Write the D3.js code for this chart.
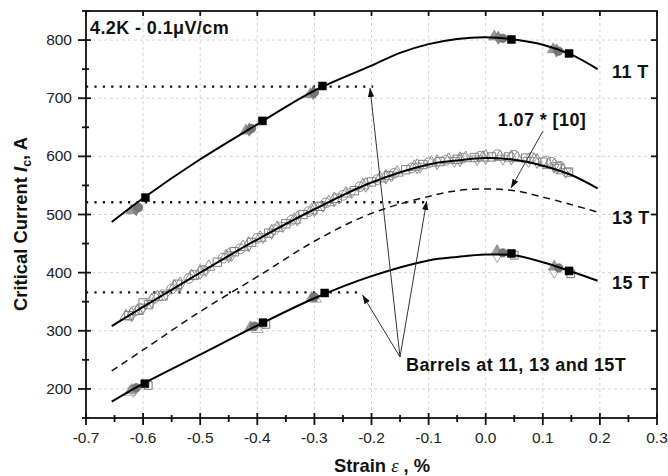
<!DOCTYPE html>
<html><head><meta charset="utf-8">
<script src="https://cdn.jsdelivr.net/npm/d3@7"></script>
<style>body{margin:0;background:#fff} text{font-family:"Liberation Sans",Arial,sans-serif}</style>
</head><body><svg id="c" width="668" height="476"></svg>
<script>
// ---- data ----
const xTicks = [-0.7,-0.6,-0.5,-0.4,-0.3,-0.2,-0.1,0.0,0.1,0.2,0.3];
const xMinor = [-0.65,-0.55,-0.45,-0.35,-0.25,-0.15,-0.05,0.05,0.15,0.25];
const yTicks = [200,300,400,500,600,700,800];
const yMinor = [150,250,350,450,550,650,750,850];

const fit11 = [[-0.655,487],[-0.6,528],[-0.5,595],[-0.4,655],[-0.3,713],[-0.2,756],[-0.15,778],[-0.1,793],[-0.05,802],[0.0,805],[0.05,801],[0.1,792],[0.15,775],[0.196,750]];
const fit13 = [[-0.655,308],[-0.6,341],[-0.5,400],[-0.4,457],[-0.3,509],[-0.2,555],[-0.1,586],[-0.05,593],[0.0,597],[0.05,594],[0.1,584],[0.15,568],[0.196,545]];
const ref10 = [[-0.655,231],[-0.6,267],[-0.5,333],[-0.4,393],[-0.3,454],[-0.2,502],[-0.1,531],[-0.05,541],[0.0,544],[0.05,541],[0.1,530],[0.15,517],[0.2,503]];
const fit15 = [[-0.655,178],[-0.6,209],[-0.5,259],[-0.4,309],[-0.3,356],[-0.2,394],[-0.1,421],[-0.05,427],[0.0,431],[0.05,430],[0.1,418],[0.15,402],[0.196,386]];

const dotted11 = [[-0.7,720],[-0.197,720]];
const dotted13 = [[-0.7,521],[-0.105,521]];
const dotted15 = [[-0.7,366],[-0.218,366]];

// 11 T measurements
const sq11 = [[-0.596,529],[-0.391,661],[-0.286,721],[0.045,801],[0.146,777]];
const grayCirc11 = [[-0.608,512],[-0.41,648],[-0.3,710],[0.03,803],[0.128,781]];
const grayTri11 = [[-0.62,507],[-0.42,644],[-0.307,707],[0.015,806],[0.118,784]];
const grayDia11 = [[-0.612,509],[-0.414,646],[-0.302,709],[0.022,804],[0.124,782]];

// 13 T measurements (open symbols)
const sq13 = [[-0.625,326],[-0.6,348],[-0.59,345],[-0.565,360],[-0.54,380],[-0.51,396],[-0.47,418],[-0.44,436],[-0.41,452],[-0.38,468],[-0.35,484],[-0.32,500],[-0.29,514],[-0.26,528],[-0.23,541],[-0.2,556],[-0.17,567],[-0.14,577],[-0.11,586],[-0.08,591],[-0.05,595],[-0.02,598],[0.01,599],[0.04,599],[0.07,597],[0.1,590],[0.125,582],[0.145,573]];
const circ13 = [[-0.615,334],[-0.605,338],[-0.58,356],[-0.55,372],[-0.52,390],[-0.495,404],[-0.46,425],[-0.43,441],[-0.4,459],[-0.37,474],[-0.34,490],[-0.31,505],[-0.28,520],[-0.25,533],[-0.22,548],[-0.19,560],[-0.16,571],[-0.13,580],[-0.1,589],[-0.07,593],[-0.04,597],[-0.01,600],[0.02,603],[0.05,602],[0.08,598],[0.105,592],[0.115,590],[0.13,583]];
const tri13 = [[-0.63,325],[-0.61,334],[-0.575,358],[-0.545,376],[-0.515,394],[-0.485,410],[-0.455,428],[-0.425,444],[-0.395,460],[-0.365,477],[-0.335,491],[-0.305,507],[-0.275,521],[-0.245,536],[-0.215,550],[-0.185,562],[-0.155,572],[-0.125,582],[-0.095,589],[-0.065,594],[-0.035,597],[-0.005,598],[0.025,599],[0.055,597],[0.085,594],[0.11,585],[0.135,576]];
const dia13 = [[-0.62,328],[-0.585,352],[-0.535,380],[-0.5,401],[-0.45,430],[-0.415,449],[-0.375,470],[-0.33,493],[-0.3,509],[-0.265,526],[-0.21,551],[-0.175,565],[-0.12,583],[-0.085,590],[-0.045,595],[0.0,599],[0.045,598],[0.09,592],[0.12,584]];
const triDn13 = [[-0.6,340],[-0.56,364],[-0.49,404],[-0.445,430],[-0.39,461],[-0.355,480],[-0.285,515],[-0.235,538],[-0.165,567],[-0.115,582],[-0.055,592],[-0.015,595],[0.03,596],[0.075,592],[0.125,580],[0.14,573]];

// 15 T measurements
const sq15 = [[-0.597,209],[-0.39,314],[-0.282,365],[0.045,433],[0.146,403]];
const openSq15 = [[-0.591,206],[-0.385,311],[0.05,430],[0.149,398]];
const grayCirc15 = [[-0.612,202],[-0.405,308],[-0.3,358],[0.03,434],[0.128,408]];
const grayTri15 = [[-0.62,198],[-0.412,306],[-0.305,356],[0.02,437],[0.12,410]];
const openTri15 = [[-0.623,195],[-0.4,303],[-0.298,355]];
const openTriDn15 = [[-0.617,196],[0.02,428],[0.12,401]];

// ---- chart ----
const svg = d3.select("#c");
const X0 = 86, X1 = 657, Y0 = 11, Y1 = 418;
const x = d3.scaleLinear().domain([-0.7,0.3]).range([X0,X1]);
const y = d3.scaleLinear().domain([150,850]).range([Y1,Y0]);

// grid
const grid = svg.append("g").attr("stroke","#c8c8c8").attr("stroke-width",0.8).attr("stroke-dasharray","3,3");
grid.selectAll(".gx").data(xTicks.slice(1,-1)).join("line")
  .attr("x1",d=>x(d)).attr("x2",d=>x(d)).attr("y1",Y0).attr("y2",Y1);
grid.selectAll(".gy").data(yTicks).join("line")
  .attr("x1",X0).attr("x2",X1).attr("y1",d=>y(d)).attr("y2",d=>y(d));

// dotted horizontals
const line = d3.line().x(d=>x(d[0])).y(d=>y(d[1]));
[dotted11,dotted13,dotted15].forEach(dd=>{
  svg.append("path").attr("d",line(dd)).attr("fill","none").attr("stroke","#111")
    .attr("stroke-width",2.4).attr("stroke-dasharray","2.2,6.2");
});

// symbols
const sym = (data, type, size, fill, stroke, sw) => {
  svg.append("g").selectAll("path").data(data).join("path")
    .attr("transform",d=>`translate(${x(d[0])},${y(d[1])})`)
    .attr("d",d3.symbol().type(type).size(size))
    .attr("fill",fill).attr("stroke",stroke).attr("stroke-width",sw);
};
const tdn = {draw(ctx,size){const r=Math.sqrt(size/1.3)/1.2; ctx.moveTo(-r,-r*0.6); ctx.lineTo(r,-r*0.6); ctx.lineTo(0,r*1.1); ctx.closePath();}};

// 13T open
sym(dia13, d3.symbolDiamond, 64, "none", "#8c8c8c", 1);
sym(triDn13, tdn, 64, "none", "#9a9a9a", 1);
sym(tri13, d3.symbolTriangle, 64, "none", "#8c8c8c", 1);
sym(circ13, d3.symbolCircle, 75, "none", "#8c8c8c", 1);
sym(sq13, d3.symbolSquare, 70, "none", "#808080", 1);

// 11T
sym(grayTri11, d3.symbolTriangle, 55, "#999", "#888", 0.8);
sym(grayDia11, d3.symbolDiamond, 50, "#888", "#777", 0.8);
sym(grayCirc11, d3.symbolCircle, 55, "#777", "#666", 0.8);
// 15T
sym(openTri15, d3.symbolTriangle, 60, "none", "#aaa", 1);
sym(openTriDn15, tdn, 60, "none", "#aaa", 1);
sym(grayTri15, d3.symbolTriangle, 55, "#999", "#888", 0.8);
sym(grayCirc15, d3.symbolCircle, 55, "#777", "#666", 0.8);
sym(openSq15, d3.symbolSquare, 60, "#fff", "#777", 1);

// curves
const cl = d3.line().x(d=>x(d[0])).y(d=>y(d[1])).curve(d3.curveCatmullRom);
[fit11,fit13,fit15].forEach(dd=>{
  svg.append("path").attr("d",cl(dd)).attr("fill","none").attr("stroke","#000").attr("stroke-width",2);
});
svg.append("path").attr("d",cl(ref10)).attr("fill","none").attr("stroke","#111")
  .attr("stroke-width",1.5).attr("stroke-dasharray","7,5");

sym(sq11, d3.symbolSquare, 64, "#000", "#000", 0.5);
sym(sq15, d3.symbolSquare, 64, "#000", "#000", 0.5);

// axes frame
const ax = svg.append("g").attr("stroke","#111").attr("stroke-width",1.8);
ax.append("rect").attr("x",X0).attr("y",Y0).attr("width",X1-X0).attr("height",Y1-Y0).attr("fill","none");
ax.selectAll(".bm").data(xTicks).join("line").attr("x1",d=>x(d)).attr("x2",d=>x(d)).attr("y1",Y1-5).attr("y2",Y1+7);
ax.selectAll(".bn").data(xMinor).join("line").attr("x1",d=>x(d)).attr("x2",d=>x(d)).attr("y1",Y1-3).attr("y2",Y1+4);
ax.selectAll(".tm").data(xTicks).join("line").attr("x1",d=>x(d)).attr("x2",d=>x(d)).attr("y1",Y0).attr("y2",Y0+5);
ax.selectAll(".lm").data(yTicks).join("line").attr("y1",d=>y(d)).attr("y2",d=>y(d)).attr("x1",X0-8).attr("x2",X0+5);
ax.selectAll(".ln").data(yMinor).join("line").attr("y1",d=>y(d)).attr("y2",d=>y(d)).attr("x1",X0-4).attr("x2",X0+3);
ax.selectAll(".rm").data(yTicks).join("line").attr("y1",d=>y(d)).attr("y2",d=>y(d)).attr("x1",X1-6).attr("x2",X1);

// tick labels
svg.append("g").selectAll("text").data(xTicks).join("text")
  .attr("x",d=>x(d)).attr("y",443).attr("text-anchor","middle")
  .attr("font-size",15.5).attr("fill","#222").text(d=>d.toFixed(1));
svg.append("g").selectAll("text").data(yTicks).join("text")
  .attr("x",72).attr("y",d=>y(d)+5).attr("text-anchor","end")
  .attr("font-size",15.5).attr("fill","#222").text(d=>d);

// axis titles
const xt = svg.append("text").attr("x",382).attr("y",472).attr("text-anchor","middle")
  .attr("font-size",18.4).attr("font-weight","bold").attr("fill","#111");
xt.append("tspan").text("Strain ");
xt.append("tspan").attr("font-style","italic").attr("font-family","'Liberation Serif',serif").attr("font-weight","normal").text("ε");
xt.append("tspan").text(" , %");

const yt = svg.append("text").attr("transform","translate(27,224) rotate(-90)").attr("text-anchor","middle")
  .attr("font-size",18.4).attr("font-weight","bold").attr("fill","#111");
yt.append("tspan").text("Critical Current ");
yt.append("tspan").attr("font-style","italic").text("I");
yt.append("tspan").attr("font-size",12.5).attr("dy",4).text("c");
yt.append("tspan").attr("dy",-4).text(",  A");

// labels
const lab = (t,xx,yy,anchor="start") => svg.append("text").attr("x",xx).attr("y",yy).attr("text-anchor",anchor)
  .attr("font-size",18).attr("letter-spacing",0.4).attr("font-weight","bold").attr("fill","#111").text(t);
lab("4.2K - 0.1μV/cm",90,34);
lab("11 T",612,78);
lab("13 T",612,224);
lab("15 T",612,289);
lab("1.07 * [10]",542,126,"middle");
lab("Barrels at 11, 13 and 15T",406,371);

// arrows
const defs = svg.append("defs");
defs.append("marker").attr("id","ah").attr("viewBox","0 0 10 10").attr("refX",10).attr("refY",5)
  .attr("markerWidth",9).attr("markerHeight",9).attr("markerUnits","userSpaceOnUse").attr("orient","auto")
  .append("path").attr("d","M0,1.5 L10,5 L0,8.5 Z").attr("fill","#111");
const arrows = [[400,357,370,88],[400,357,426.7,201],[400,357,362.5,295],[543,131,511,188]];
svg.append("g").selectAll("line").data(arrows).join("line")
  .attr("x1",d=>d[0]).attr("y1",d=>d[1]).attr("x2",d=>d[2]).attr("y2",d=>d[3])
  .attr("stroke","#333").attr("stroke-width",1).attr("marker-end","url(#ah)");
</script></body></html>
